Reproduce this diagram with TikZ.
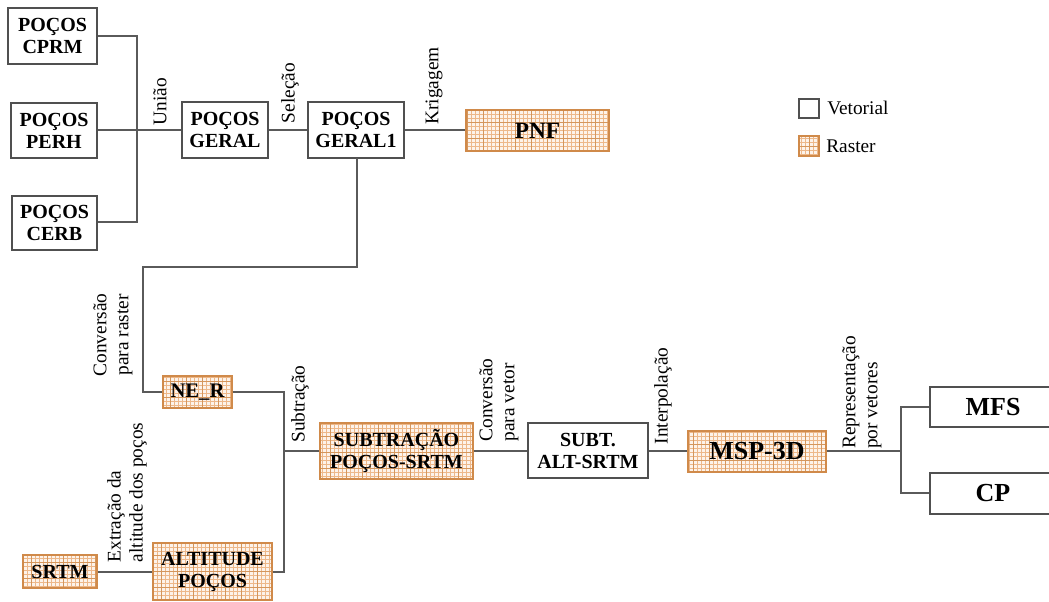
\documentclass[tikz,border=0pt]{standalone}
\usepackage{fontspec}
\setmainfont{Liberation Serif}
\definecolor{linegray}{HTML}{5A5A5A}
\definecolor{boxgray}{HTML}{505050}
\definecolor{rborder}{HTML}{D08A4A}
\definecolor{rfill}{HTML}{FDF3EA}
\definecolor{rminor}{HTML}{EDB88A}
\definecolor{rmajor}{HTML}{D4965C}
\tikzset{
  sz/.style 2 args={minimum width=#1*0.75pt, minimum height=#2*0.75pt},
  vbox/.style={draw=boxgray, line width=0.85pt, fill=white, align=center, inner sep=0pt,
    font=\bfseries\fontsize{15}{16.5}\selectfont},
  rbox/.style={draw=rborder, line width=1.1pt, fill=rfill, align=center, inner sep=0pt,
    font=\bfseries\fontsize{15}{16.5}\selectfont,
    path picture={
      \draw[rminor, line width=0.3pt] (path picture bounding box.south west) grid[step=3pt] (path picture bounding box.north east);
      \draw[rmajor, line width=0.45pt] (path picture bounding box.south west) grid[step=12pt] (path picture bounding box.north east);
    }},
  big/.style={font=\bfseries\fontsize{19.5}{21}\selectfont},
  conn/.style={draw=linegray, line width=0.85pt},
  lbl/.style={rotate=90, inner sep=0pt, font=\fontsize{14.5}{16.5}\selectfont},
  legtxt/.style={anchor=west, inner sep=0pt, font=\fontsize{14.5}{16}\selectfont}
}
\begin{document}
\begin{tikzpicture}[x=0.75pt, y=-0.75pt]
\useasboundingbox (0,0) rectangle (1049,601);
% vector boxes
\node[vbox, sz={89}{56}] (cprm) at (52.5,36) {POÇOS\\CPRM};
\node[vbox, sz={86}{55}] (perh) at (54,130.5) {POÇOS\\PERH};
\node[vbox, sz={85}{54}] (cerb) at (54.5,223) {POÇOS\\CERB};
\node[vbox, sz={86}{56}] (geral) at (225,130) {POÇOS\\GERAL};
\node[vbox, sz={96}{56}] (geral1) at (356,130) {POÇOS\\GERAL1};
\node[rbox, sz={143}{41}, font=\bfseries\fontsize{17.5}{19}\selectfont] (pnf) at (537.5,130.5) {PNF};
% legend
\node[vbox, sz={20}{19}] (legv) at (809,108.5) {};
\node[legtxt] (legvt) at (827,108) {Vetorial};
\node[rbox, sz={20}{20}, line width=0.8pt] (legr) at (809,146) {};
\node[legtxt] (legrt) at (826,146) {Raster};
% lower boxes
\node[rbox, sz={69}{32}, font=\bfseries\fontsize{15.5}{17}\selectfont] (ner) at (197.5,392) {NE\_R};
\node[rbox, sz={74}{33}] (srtm) at (60,571.5) {SRTM};
\node[rbox, sz={119}{57}] (alt) at (212.5,571.5) {ALTITUDE\\POÇOS};
\node[rbox, sz={153}{56}] (sub) at (396.5,451) {SUBTRAÇÃO\\POÇOS-SRTM};
\node[vbox, sz={120}{55}] (subt) at (588,450.5) {SUBT.\\ALT-SRTM};
\node[rbox, big, sz={138}{41}] (msp) at (757,451.5) {MSP-3D};
\node[vbox, big, sz={126}{40}] (mfs) at (993,407) {MFS};
\node[vbox, big, sz={126}{41}] (cp) at (993,493.5) {CP};
% junction coordinates
\coordinate (j1) at (137,130);
\coordinate (j2) at (284,451);
\coordinate (j3) at (901,451);
% connectors
\draw[conn] (cprm.east |- 0,36) -| (j1) |- (cerb.east |- 0,222);
\draw[conn] (perh.east |- j1) -- (geral.west |- j1);
\draw[conn] (geral.east) -- (geral1.west);
\draw[conn] (geral1.east) -- (pnf.west |- geral1.east);
\draw[conn] (357,158) -- (357,267) -- (143,267) -- (143,392) -- (ner.west);
\draw[conn] (ner.east) -| (j2) |- (alt.east |- 0,572);
\draw[conn] (j2) -- (sub.west);
\draw[conn] (srtm.east |- 0,572) -- (alt.west |- 0,572);
\draw[conn] (sub.east) -- (subt.west |- sub.east);
\draw[conn] (subt.east |- sub.east) -- (msp.west |- sub.east);
\draw[conn] (msp.east |- sub.east) -- (j3);
\draw[conn] (mfs.west) -| (j3) |- (cp.west |- 0,493);
% labels
\node[lbl] (l1) at (160,101.5) {União};
\node[lbl] (l2) at (290,93) {Seleção};
\node[lbl] (l3) at (434,86) {Krigagem};
\node[lbl, align=center] (l4) at (113,335) {Conversão\\para raster};
\node[lbl, align=left] (l5) at (127,492.5) {Extração da\\altitude dos poços};
\node[lbl] (l6) at (300,404) {Subtração};
\node[lbl, align=left] (l7) at (499,400) {Conversão\\para vetor};
\node[lbl] (l8) at (663,396) {Interpolação};
\node[lbl, align=left] (l9) at (862,392.5) {Representação\\por vetores};
\end{tikzpicture}
\end{document}
